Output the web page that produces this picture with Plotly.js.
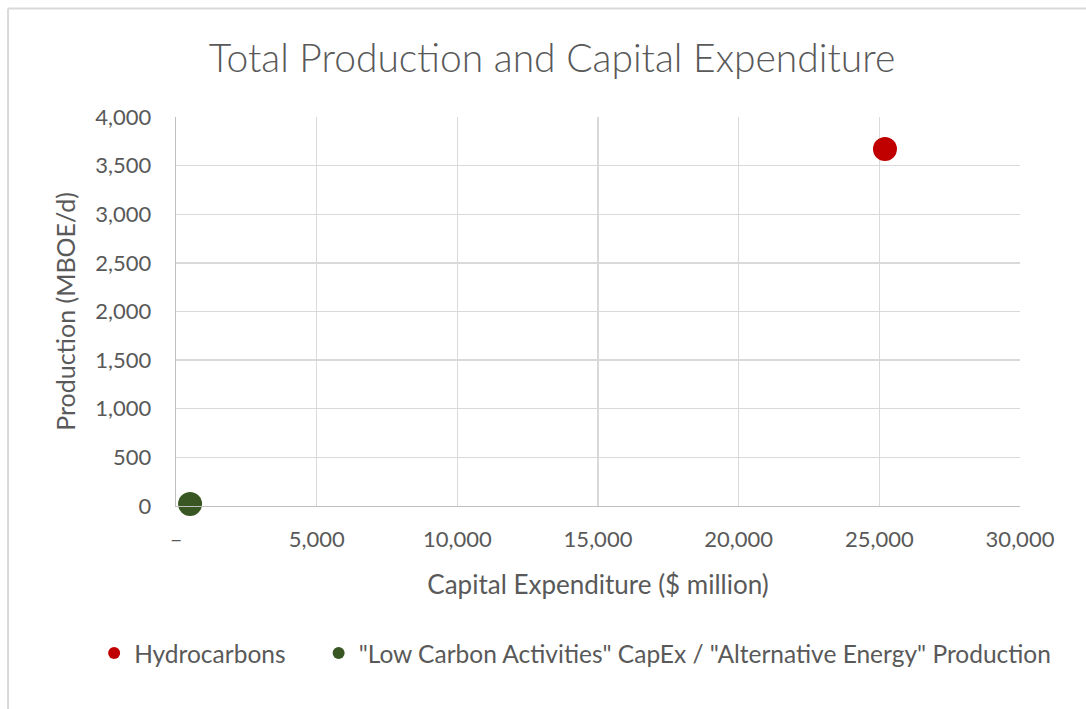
<!DOCTYPE html>
<html>
<head>
<meta charset="utf-8">
<script src="https://cdn.plot.ly/plotly-3.0.1.min.js"></script>
<style>html,body{margin:0;padding:0;background:#fff;}#chart{width:1086px;height:709px;}</style>
</head>
<body>
<div id="chart"></div>
<script>
const seriesNames = ['Hydrocarbons', '"Low Carbon Activities" CapEx / "Alternative Energy" Production'];
const capex = [25200, 500];          // $ million
const production = [3670, 20];       // MBOE/d
const seriesColors = ['#c00000', '#385723'];
const xTickVals = [0, 5000, 10000, 15000, 20000, 25000, 30000];
const xTickText = ['–', '5,000', '10,000', '15,000', '20,000', '25,000', '30,000'];
const yTickVals = [0, 500, 1000, 1500, 2000, 2500, 3000, 3500, 4000];
const yTickText = ['0', '500', '1,000', '1,500', '2,000', '2,500', '3,000', '3,500', '4,000'];

const FONT = 'Lato, "Open Sans", sans-serif';
const TXT = '#595959';
const legendIds = ['legend', 'legend2'];

const traces = seriesNames.map((name, i) => ({
  type: 'scatter', mode: 'markers', name: name,
  x: [capex[i]], y: [production[i]],
  marker: {color: seriesColors[i], size: 24, line: {width: 0}},
  cliponaxis: false,
  legend: legendIds[i]
}));

const legendBase = {orientation: 'h', xanchor: 'left', y: -0.378, yanchor: 'middle',
  font: {size: 24.5, color: TXT, family: FONT}, itemsizing: 'constant', bgcolor: 'rgba(0,0,0,0)'};

const layout = {
  width: 1086, height: 709,
  paper_bgcolor: '#ffffff', plot_bgcolor: '#ffffff',
  margin: {l: 176, r: 66, t: 117, b: 203},
  font: {family: FONT, color: TXT},
  title: {text: 'Total Production and Capital Expenditure', font: {family: FONT, size: 39, color: TXT, weight: 300},
          x: 0.4455, xanchor: 'center', y: 0.918, yanchor: 'middle', xref: 'paper', yref: 'container'},
  xaxis: {
    range: [0, 30000], tickvals: xTickVals, ticktext: xTickText,
    showgrid: true, gridcolor: '#d9d9d9', gridwidth: 1.3,
    showline: true, linecolor: '#bfbfbf', linewidth: 1.3,
    zeroline: false, ticks: '', ticklabelstandoff: 13,
    tickfont: {size: 22, color: TXT, family: FONT},
    title: {text: 'Capital Expenditure ($ million)', font: {size: 26, color: TXT, family: FONT}, standoff: 25}
  },
  yaxis: {
    range: [0, 4000], tickvals: yTickVals, ticktext: yTickText,
    showgrid: true, gridcolor: '#d9d9d9', gridwidth: 1.3,
    showline: true, linecolor: '#bfbfbf', linewidth: 1.3,
    zeroline: false, ticks: '', ticklabelstandoff: 19,
    tickfont: {size: 22, color: TXT, family: FONT},
    title: {text: 'Production (MBOE/d)', font: {size: 25, color: TXT, family: FONT}, standoff: 12}
  },
  showlegend: true,
  legend: Object.assign({}, legendBase, {x: -0.097}),
  legend2: Object.assign({}, legendBase, {x: 0.169}),
  shapes: [
    {type: 'line', xref: 'paper', yref: 'paper', x0: -0.199, x1: 1.09, y0: 1.279, y1: 1.279, line: {color: '#d9d9d9', width: 2}},
    {type: 'line', xref: 'paper', yref: 'paper', x0: -0.199, x1: -0.199, y0: 1.279, y1: -0.53, line: {color: '#d9d9d9', width: 2}}
  ]
};

Plotly.newPlot('chart', traces, layout, {displayModeBar: false, staticPlot: true});
</script>
</body>
</html>
